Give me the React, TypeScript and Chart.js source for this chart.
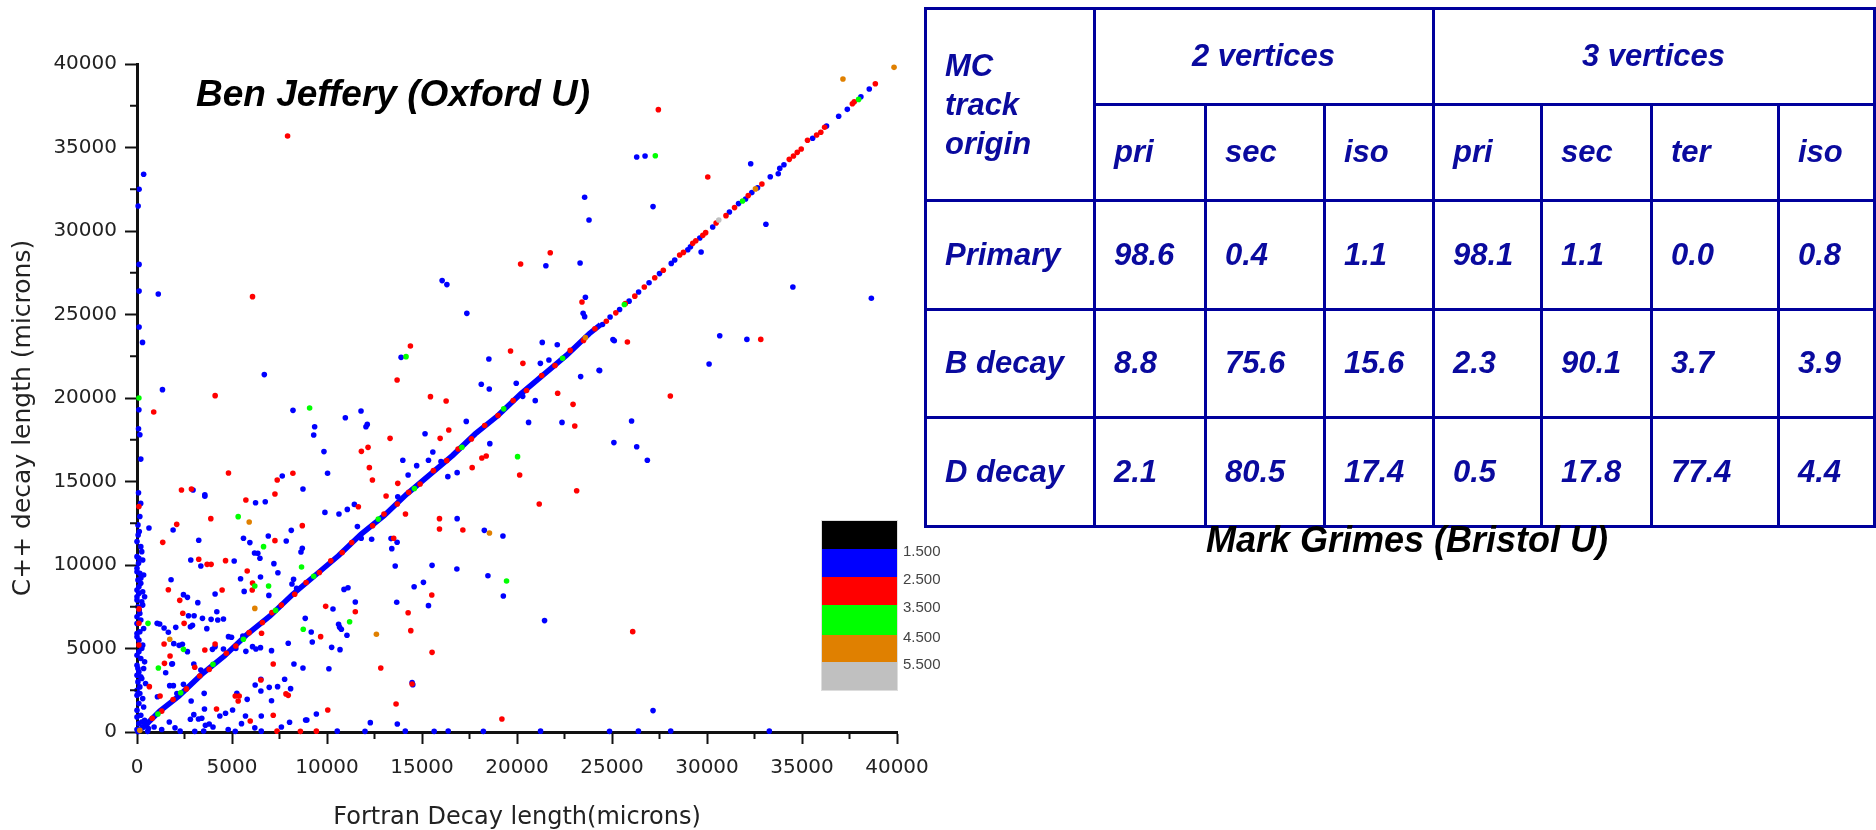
import React, { useEffect, useRef } from 'react';
import { Chart, registerables } from 'chart.js';

Chart.register(...registerables);

// ---------------- DATA ----------------
const xTickValues = [0, 5000, 10000, 15000, 20000, 25000, 30000, 35000, 40000];
const minorTickValues = [2500, 7500, 12500, 17500, 22500, 27500, 32500, 37500];

// dense diagonal band (Fortran == C++)
const diagonalTrack: number[][] = [
  [0, 0], [400, 350], [1200, 1250], [2200, 2150], [3400, 3450], [4600, 4550], [5800, 5850],
  [7000, 6950], [8200, 8250], [9400, 9400], [10600, 10550], [11800, 11850], [13000, 12950],
  [14200, 14250], [15400, 15400], [16600, 16550], [17800, 17850], [19000, 18950], [20200, 20250],
  [21400, 21400], [22600, 22550], [23800, 23850], [24400, 24400],
];

const diagBlue: number[][] = [
  [2100, 2300], [5200, 5000], [8400, 8600], [11800, 11600], [16000, 16200], [20300, 20100],
  [24500, 24400], [24900, 24850], [25400, 25300], [25900, 25800], [26400, 26350], [26950, 26900],
  [27500, 27450], [28120, 28060], [28300, 28260], [28990, 28880], [29130, 29060], [29620, 29580],
  [30300, 30240], [31180, 31140], [31660, 31640], [32030, 31920], [32360, 32300], [32660, 32590],
  [33330, 33250], [33750, 33430], [33830, 33750], [34050, 33970], [35560, 35550], [36290, 36290],
  [36930, 36870], [37385, 37285], [38100, 38040], [38540, 38500],
];

const diagRed: number[][] = [
  [800, 820], [1300, 1250], [1900, 1950], [2600, 2580], [3300, 3350], [3800, 3750], [4700, 4720],
  [5200, 5150], [5900, 5950], [6600, 6560], [7100, 7150], [7600, 7600], [8300, 8250], [8900, 8950],
  [9600, 9550], [10200, 10250], [10800, 10750], [11300, 11350], [12400, 12350], [13000, 13050],
  [13700, 13650], [14300, 14350], [14900, 14850], [15600, 15650], [16300, 16250], [16900, 16950],
  [17600, 17550], [18300, 18350], [19000, 18950], [19800, 19850], [20500, 20450], [21300, 21350],
  [22000, 21950], [22800, 22850], [23500, 23450], [24100, 24150],
  [24700, 24600], [25200, 25100], [25700, 25650], [26200, 26100], [26700, 26650], [27250, 27200],
  [27700, 27650], [28560, 28560], [28760, 28720], [29250, 29260], [29410, 29420], [29780, 29740],
  [29930, 29900], [30480, 30480], [31000, 30920], [31450, 31400], [32170, 32120], [32890, 32810],
  [34330, 34290], [34550, 34490], [34750, 34710], [34960, 34910], [35290, 35430], [35770, 35750],
  [35990, 35910], [36190, 36210], [37650, 37620], [37750, 37740], [38860, 38820],
];

const diagGreen: number[][] = [
  [1100, 1080], [2300, 2350], [4000, 4050], [5600, 5550], [7300, 7280], [9300, 9320], [12700, 12750],
  [14600, 14580], [17100, 17050], [19300, 19350], [22400, 22380], [25650, 25600], [31870, 31800],
  [37980, 37880],
];

const diagOrange: number[][] = [
  [150, 100], [23600, 23620], [32550, 32520], [39844, 39800],
];

const bluePoints: number[][] = [
  [350, 33400], [110, 32500], [60, 31500], [110, 28000], [110, 26400], [1120, 26230], [110, 24250], [290, 23330],
  [23560, 32020], [23790, 30660], [21520, 27920], [23320, 28080], [16060, 27030], [16310, 26790], [17360, 25070],
  [23600, 26030], [23480, 25070], [23560, 24870], [21330, 23330], [22120, 23190], [25050, 23500], [25120, 23430],
  [26300, 34430], [26740, 34490], [32300, 34030], [27160, 31460], [33100, 30400], [29690, 28740], [34520, 26650],
  [38650, 25970], [30670, 23730], [32100, 23510], [30110, 22040], [24350, 21640], [26030, 18620], [25100, 17330],
  [26300, 17080], [26860, 16270], [27160, 1280],
  [100, 19300], [80, 18160], [150, 17800], [200, 16340], [80, 14330], [150, 12900], [60, 11800], [200, 11100],
  [13900, 22435], [18520, 22335], [21230, 22076], [21680, 22275], [6700, 21400], [1340, 20500], [18120, 20820],
  [18540, 20540], [19960, 20880], [23350, 21280], [24320, 21660], [20960, 19840], [8210, 19260], [11790, 19220],
  [10965, 18820], [12120, 18420], [12050, 18280], [9350, 18280], [9300, 17780], [17330, 18600], [20610, 18540],
  [22370, 18540], [15160, 17860], [18570, 17265], [9840, 16790], [13990, 16270], [15340, 16270], [14720, 15950],
  [15570, 16770], [14270, 15390], [16360, 15290], [16850, 15530], [10030, 15490], [7645, 15330], [2950, 14490],
  [3570, 14210], [3570, 14120], [195, 13690], [6240, 13730], [6750, 13790], [8735, 14550], [13725, 14090],
  [9890, 13150], [10630, 13050], [11070, 13330], [11440, 13630], [1900, 12100], [630, 12215], [8120, 12075],
  [11600, 12300], [12350, 11540], [13370, 11580], [13690, 11360], [13410, 10980], [13590, 9940], [16850, 12775],
  [18280, 12075], [19260, 11735], [3250, 11480], [5605, 11600], [5940, 11340], [6910, 11735], [7855, 11440],
  [8630, 10780], [8700, 11000], [6185, 10720], [6360, 10700], [6470, 10400], [2830, 10300], [3360, 9940],
  [5115, 10240], [7205, 10080], [7416, 9540], [1793, 9120], [5450, 9180], [6500, 9280], [6940, 8180],
  [8240, 9140], [8155, 8860], [5640, 8420], [4110, 8264], [2445, 8224], [2655, 8064], [3200, 7745],
  [10315, 7365], [10895, 8540], [11105, 8640], [11490, 7785], [15530, 9980], [16835, 9760], [18470, 9360],
  [19280, 8144], [14585, 8700], [15075, 8960], [15340, 7565], [13670, 7765], [21450, 6670], [4200, 7205],
  [2710, 6965], [3005, 6965], [3445, 6805], [3900, 6745], [4250, 6705], [4550, 6765], [2920, 6385], [2810, 6300],
  [3675, 6190], [5570, 5750], [4815, 5710], [4975, 5670], [1060, 6505], [1195, 6465], [1425, 6225], [2040, 6265],
  [1650, 5970], [1935, 5290], [2215, 5190], [2390, 5250], [2655, 4810], [1830, 4070], [3970, 4950], [4110, 5110],
  [4550, 4970], [6080, 5110], [6260, 4970], [6500, 5050], [5730, 4830], [7080, 4870], [7960, 5310], [8260, 4070],
  [8735, 3830], [10100, 3790], [9170, 5990], [9225, 5390], [8855, 6805], [10245, 5070], [10685, 4930],
  [10610, 6450], [10665, 6270], [10755, 6150], [11050, 5790], [14480, 2955], [14515, 2835], [2990, 4070],
  [3360, 3710], [1510, 3550], [1865, 4090], [1075, 2115], [2445, 2854], [1915, 2775], [1720, 2775], [2850, 1855],
  [3535, 2315], [3550, 1375], [2990, 1040], [2810, 760], [3235, 780], [3410, 820], [3800, 480], [3600, 400],
  [4360, 960], [4660, 1120], [5255, 2315], [5800, 1955], [5030, 1320], [5710, 960], [6220, 2815], [6520, 2455],
  [6520, 3155], [6960, 2675], [7400, 2715], [7770, 3155], [8085, 2595], [7080, 1875], [6540, 960], [8030, 580],
  [8875, 720], [12280, 560], [13700, 480], [9440, 1080], [8940, 720],
  [900, 300], [1300, 150], [1700, 600], [2000, 250], [4000, 300], [4800, 150], [5500, 500], [6200, 250], [7600, 300],
  [50, 30], [560, 40], [2270, 50], [3040, 40], [3510, 60], [5170, 40], [6540, 50], [10540, 50], [12000, 40],
  [14120, 50], [15640, 40], [16380, 60], [18230, 40], [21240, 50], [24870, 40], [26390, 50], [28090, 60], [33280, 50],
  [0, 10500], [100, 10400], [300, 10300], [0, 9600], [150, 9500], [350, 9400], [50, 9100], [200, 8900], [0, 8500],
  [300, 8400], [100, 8300], [400, 8100], [0, 7900], [250, 7800], [50, 7500], [150, 7100], [0, 6900], [200, 6700],
  [0, 5900], [100, 5500], [300, 5200], [0, 4600], [200, 4400], [0, 4000], [350, 3800], [100, 3600], [0, 3400],
  [250, 3200], [50, 3000], [150, 2700], [0, 2200], [300, 2000], [100, 1700], [0, 1300], [200, 1000], [400, 700],
  [100, 500], [300, 300], [600, 200],
  [50, 12400], [120, 12000], [0, 11400], [250, 10800], [80, 10100], [0, 9800], [200, 9200], [100, 8700], [0, 8100],
  [300, 7600], [120, 7300], [0, 6500], [350, 6200], [150, 6000], [0, 5700], [250, 5000], [100, 4800], [400, 4200],
  [50, 3800], [200, 3300], [450, 2900], [0, 2500], [150, 2300], [350, 1500], [0, 900], [250, 600], [500, 400], [0, 150],
];

const redPoints: number[][] = [
  [7925, 35690], [27440, 37265], [30040, 33230], [21750, 28700], [20190, 28020], [6080, 26070], [23420, 25750],
  [14390, 23110], [25810, 23350], [32830, 23510], [28070, 20120], [26090, 6010], [100, 13500], [100, 6510],
  [100, 7370], [100, 5210],
  [19660, 22814], [20310, 22076], [13690, 21078], [22140, 20280], [22950, 19620], [23040, 18320], [4113, 20140],
  [15445, 20080], [16270, 19820], [880, 19160], [16410, 18084], [15955, 17584], [13320, 17584], [11810, 16806],
  [12160, 17045], [20140, 15390], [18380, 16527], [18150, 16407], [17640, 15828], [12230, 15828], [12390, 15090],
  [23140, 14450], [21170, 13650], [8205, 15490], [7380, 15090], [7260, 14250], [4815, 15510], [2340, 14490],
  [2865, 14550], [5730, 13890], [13725, 14890], [13110, 14130], [14130, 13050], [11650, 13490], [3885, 12775],
  [2090, 12435], [8700, 12355], [13510, 11600], [15920, 12775], [15920, 12155], [17150, 12100], [1355, 11357],
  [7260, 11457], [3250, 10340], [3690, 10040], [3900, 10040], [4660, 10260], [5800, 9640], [6080, 8920],
  [6065, 8500], [4480, 8500], [1650, 8520], [2250, 7884], [9930, 7525], [11490, 7205], [15515, 8204],
  [14270, 7144], [14410, 6070], [2480, 6505], [6555, 5910], [1425, 5270], [1740, 4550], [3570, 4910],
  [4110, 5270], [7170, 4070], [9665, 5710], [12830, 3830], [15530, 4770], [13635, 1675], [19205, 780],
  [3040, 3875], [1445, 4110], [650, 2715], [1215, 2155], [4185, 1375], [5170, 2155], [5325, 1855], [5380, 2155],
  [5960, 660], [6520, 3115], [7960, 2195], [7170, 1000], [14480, 2870], [7370, 50], [8600, 40], [9440, 50],
  [10040, 1320], [7840, 2280], [2410, 7110],
];

const greenPoints: number[][] = [
  [100, 20000], [9085, 19400], [14160, 22475], [27280, 34510], [20030, 16487], [5325, 12895], [6660, 11100],
  [8660, 9880], [6200, 8740], [6925, 8740], [19450, 9040], [580, 6505], [2445, 4950], [1125, 3830],
  [8750, 6150], [11190, 6605],
];

const orangePoints: number[][] = [
  [37155, 39100], [1724, 5550], [5905, 12575], [18550, 11915], [12600, 5850], [6200, 7400],
];

const grayPoints: number[][] = [[30620, 30660]];

// colour scale legend
const scaleColors = ['#000000', '#0000ff', '#ff0000', '#00ff00', '#e08000', '#c0c0c0'];
const scaleLabels = ['1.500', '2.500', '3.500', '4.500', '5.500'];

// table
const originRows = ['Primary', 'B decay', 'D decay'];
const originHeader = ['MC', 'track', 'origin'];
const groupHeaders = ['2 vertices', '3 vertices'];
const subHeaders = ['pri', 'sec', 'iso', 'pri', 'sec', 'ter', 'iso'];
const vertex2Values = [
  ['98.6', '0.4', '1.1'],
  ['8.8', '75.6', '15.6'],
  ['2.1', '80.5', '17.4'],
];
const vertex3Values = [
  ['98.1', '1.1', '0.0', '0.8'],
  ['2.3', '90.1', '3.7', '3.9'],
  ['0.5', '17.8', '77.4', '4.4'],
];

// ---------------- LAYOUT ----------------
const colEdges = [925, 1094, 1205, 1324, 1433, 1541, 1651, 1778, 1874];
const rowEdges = [8, 104, 200, 309, 417, 526];
const bandEdges = [521, 549, 577, 605, 635, 662, 690];
const navy = '#00009c';
const cellText = '#0a0a9e';
const sansFont = '"Liberation Sans", Arial, sans-serif';

const toXY = (pts: number[][]) => pts.map(([x, y]) => ({ x, y }));

function HLine({ y, x1, x2 }: { y: number; x1: number; x2: number }) {
  return <div style={{ position: 'absolute', left: x1 - 1.5, top: y - 1.5, width: x2 - x1 + 3, height: 3, background: navy }} />;
}
function VLine({ x, y1, y2 }: { x: number; y1: number; y2: number }) {
  return <div style={{ position: 'absolute', left: x - 1.5, top: y1 - 1.5, width: 3, height: y2 - y1 + 3, background: navy }} />;
}
function Cell({ c0, c1, r0, r1, children, center, lineHeight }: any) {
  return (
    <div
      style={{
        position: 'absolute', left: colEdges[c0], top: rowEdges[r0], width: colEdges[c1] - colEdges[c0],
        height: rowEdges[r1] - rowEdges[r0], display: 'flex', alignItems: 'center',
        justifyContent: center ? 'center' : 'flex-start', boxSizing: 'border-box', paddingLeft: center ? 0 : 20,
        fontFamily: sansFont, fontWeight: 'bold', fontStyle: 'italic', fontSize: 31, color: cellText,
        lineHeight: lineHeight || 'normal', whiteSpace: 'pre',
      }}
    >
      {children}
    </div>
  );
}

function DataTable() {
  const right = colEdges[colEdges.length - 1];
  const left = colEdges[0];
  const bottom = rowEdges[rowEdges.length - 1];
  return (
    <>
      <Cell c0={0} c1={1} r0={0} r1={2} lineHeight="39px">
        <div>{originHeader.map((t) => <div key={t}>{t}</div>)}</div>
      </Cell>
      <Cell c0={1} c1={4} r0={0} r1={1} center>{groupHeaders[0]}</Cell>
      <Cell c0={4} c1={8} r0={0} r1={1} center>{groupHeaders[1]}</Cell>
      {subHeaders.map((h, i) => (
        <Cell key={'h' + i} c0={i + 1} c1={i + 2} r0={1} r1={2}>{h}</Cell>
      ))}
      {originRows.map((name, r) => (
        <React.Fragment key={name}>
          <Cell c0={0} c1={1} r0={r + 2} r1={r + 3}>{name}</Cell>
          {[...vertex2Values[r], ...vertex3Values[r]].map((v, i) => (
            <Cell key={i} c0={i + 1} c1={i + 2} r0={r + 2} r1={r + 3}>{v}</Cell>
          ))}
        </React.Fragment>
      ))}
      <HLine y={rowEdges[0]} x1={left} x2={right} />
      <HLine y={rowEdges[1]} x1={colEdges[1]} x2={right} />
      {rowEdges.slice(2).map((y) => <HLine key={'r' + y} y={y} x1={left} x2={right} />)}
      {colEdges.map((x, i) => {
        const full = i === 0 || i === 1 || i === 4 || i === colEdges.length - 1;
        return <VLine key={'c' + x} x={x} y1={full ? rowEdges[0] : rowEdges[1]} y2={bottom} />;
      })}
    </>
  );
}

function ColorScale() {
  return (
    <>
      <div style={{ position: 'absolute', left: 821, top: bandEdges[0] - 1, width: 77, height: bandEdges[6] - bandEdges[0] + 2, background: '#ddd' }} />
      {scaleColors.map((c, i) => (
        <div key={c} style={{ position: 'absolute', left: 822, top: bandEdges[i], width: 75, height: bandEdges[i + 1] - bandEdges[i], background: c }} />
      ))}
      {scaleLabels.map((t, i) => (
        <div key={t} style={{ position: 'absolute', left: 903, top: bandEdges[i + 1] + 2 - 9, height: 18, lineHeight: '18px', fontFamily: sansFont, fontSize: 15, color: '#444' }}>{t}</div>
      ))}
    </>
  );
}

export default function App() {
  const ref = useRef<HTMLCanvasElement>(null);

  useEffect(() => {
    const canvas = ref.current!;
    const axisDecor = {
      id: 'axisDecor',
      afterDraw(chart: any) {
        const { ctx, scales } = chart;
        const xs = scales.x;
        const ys = scales.y;
        ctx.save();
        ctx.strokeStyle = '#111';
        ctx.lineWidth = 2;
        for (const v of minorTickValues) {
          const px = xs.getPixelForValue(v);
          ctx.beginPath();
          ctx.moveTo(px, xs.top);
          ctx.lineTo(px, xs.top + 7);
          ctx.stroke();
          const py = ys.getPixelForValue(v);
          ctx.beginPath();
          ctx.moveTo(ys.right, py);
          ctx.lineTo(ys.right - 7, py);
          ctx.stroke();
        }
        ctx.translate(23, 418);
        ctx.rotate(-Math.PI / 2);
        ctx.fillStyle = '#222';
        ctx.font = '25px "DejaVu Sans"';
        ctx.textAlign = 'center';
        ctx.textBaseline = 'middle';
        ctx.fillText('C++ decay length (microns)', 0, 0);
        ctx.restore();
      },
    };

    const pointDs = (label: string, pts: number[][], color: string, order: number) => ({
      label,
      data: toXY(pts),
      backgroundColor: color,
      borderColor: color,
      pointRadius: 2.8,
      pointBorderWidth: 0,
      pointHoverRadius: 2.8,
      clip: false as any,
      order,
    });

    const tickFont = { family: '"DejaVu Sans"', size: 20 };
    const chart = new Chart(canvas, {
      type: 'scatter',
      data: {
        datasets: [
          pointDs('gray', grayPoints, '#c0c0c0', 0),
          pointDs('orange', [...orangePoints, ...diagOrange], '#e08000', 1),
          pointDs('green', [...greenPoints, ...diagGreen], '#00ff00', 2),
          pointDs('red', [...redPoints, ...diagRed], '#ff0000', 3),
          pointDs('blue', [...bluePoints, ...diagBlue], '#0000ff', 4),
          {
            label: 'diagonal',
            data: toXY(diagonalTrack),
            showLine: true,
            borderColor: '#0000ff',
            backgroundColor: '#0000ff',
            borderWidth: 5.5,
            pointRadius: 0,
            clip: false as any,
            order: 5,
          } as any,
        ],
      },
      options: {
        responsive: false,
        animation: false,
        devicePixelRatio: 1,
        events: [],
        layout: { padding: { left: 0, right: 979, top: 64, bottom: 0 } },
        plugins: { legend: { display: false }, tooltip: { enabled: false }, title: { display: false } },
        scales: {
          x: {
            type: 'linear',
            min: 0,
            max: 40000,
            afterBuildTicks: (s: any) => { s.ticks = xTickValues.map((v) => ({ value: v })); },
            ticks: { font: tickFont, color: '#222', padding: 12, maxRotation: 0, autoSkip: false, callback: (v: any) => String(v) },
            grid: { drawOnChartArea: false, tickLength: 12, tickWidth: 2, tickColor: '#111' },
            border: { color: '#111', width: 3 },
            title: { display: true, text: 'Fortran Decay length(microns)', font: { family: '"DejaVu Sans"', size: 24, lineHeight: 1 }, color: '#222', padding: 0 },
            afterFit: (s: any) => { s.height = 98; },
          },
          y: {
            type: 'linear',
            min: 0,
            max: 40000,
            afterBuildTicks: (s: any) => { s.ticks = xTickValues.map((v) => ({ value: v })); },
            ticks: { font: tickFont, color: '#222', padding: 8, autoSkip: false, callback: (v: any) => String(v) },
            grid: { drawOnChartArea: false, tickLength: 12, tickWidth: 2, tickColor: '#111' },
            border: { color: '#111', width: 3 },
            afterFit: (s: any) => { s.width = 137; },
          },
        },
      } as any,
      plugins: [axisDecor],
    });
    return () => chart.destroy();
  }, []);

  return (
    <div style={{ position: 'fixed', left: 0, top: 0, width: 1876, height: 830, background: '#fff', overflow: 'hidden' }}>
      <canvas ref={ref} width={1876} height={830} style={{ position: 'absolute', left: 0, top: 0 }} />
      <div style={{ position: 'absolute', left: 196, top: 74, fontFamily: sansFont, fontWeight: 'bold', fontStyle: 'italic', fontSize: 37, lineHeight: '40px', color: '#000', whiteSpace: 'nowrap' }}>
        Ben Jeffery (Oxford U)
      </div>
      <ColorScale />
      <DataTable />
      <div style={{ position: 'absolute', left: 1107, width: 600, top: 520, textAlign: 'center', fontFamily: sansFont, fontWeight: 'bold', fontStyle: 'italic', fontSize: 36, lineHeight: '40px', color: '#000', whiteSpace: 'nowrap' }}>
        Mark Grimes (Bristol U)
      </div>
    </div>
  );
}
